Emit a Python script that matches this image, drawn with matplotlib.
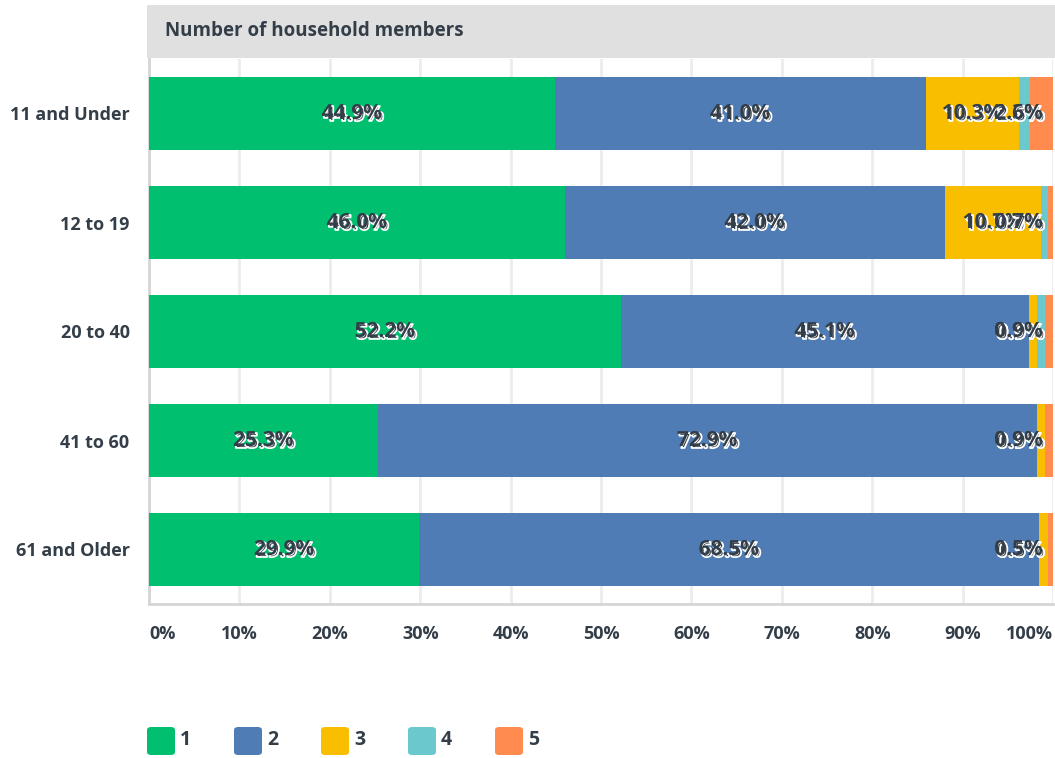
import matplotlib
matplotlib.use("Agg")
import matplotlib.pyplot as plt
import matplotlib.patheffects as pe
from matplotlib.patches import Rectangle, FancyBboxPatch
import numpy as np

plt.rcParams['font.family'] = ['Open Sans', 'DejaVu Sans']

groups = ['11 and Under', '12 to 19', '20 to 40', '41 to 60', '61 and Older']
members = ['1', '2', '3', '4', '5']
share_1 = [44.9, 46.0, 52.2, 25.3, 29.9]
share_2 = [41.0, 42.0, 45.1, 72.9, 68.5]
share_3 = [10.3, 10.7, 0.9, 0.9, 1.1]
share_4 = [1.3, 0.7, 0.9, 0.0, 0.0]
share_5 = [2.6, 0.7, 0.9, 0.9, 0.5]
colors = ['#00bf6f', '#507cb6', '#f9be00', '#6bc8cd', '#ff8b4f']
ticks = [0, 10, 20, 30, 40, 50, 60, 70, 80, 90, 100]

dark = '#333e48'
W, H = 1055, 758
fig = plt.figure(figsize=(W / 100, H / 100), dpi=100)
ax = fig.add_axes([149 / W, 1 - 604 / H, 904 / W, 545 / H])

series = [share_1, share_2, share_3, share_4, share_5]
y = np.arange(len(groups))
left = np.zeros(len(groups))
shadow = [pe.Stroke(linewidth=1.3, foreground='white', offset=(1.4, -1.4)), pe.Normal()]
for vals, col in zip(series, colors):
    vals = np.array(vals)
    ax.barh(y, vals, left=left, height=0.67, color=col, zorder=3)
    for yi, (l, v) in enumerate(zip(left, vals)):
        if v <= 0:
            continue
        cx = min(l + v / 2, 96.2)
        ax.text(cx, yi, f'{v:.1f}%', ha='center', va='center', fontsize=15,
                fontweight='bold', color=dark, zorder=5, path_effects=shadow)
    left += vals

ax.set_xlim(0, 100)
ax.set_ylim(4.5, -0.5)
ax.set_yticks(y)
ax.set_yticklabels(groups, fontsize=13, fontweight='bold', color=dark)
ax.set_xticks(ticks)
ax.set_xticklabels([f'{t}%' for t in ticks], fontsize=13, fontweight='bold',
                   color=dark)
lbls = ax.get_xticklabels()
lbls[0].set_ha('left')
lbls[-1].set_ha('right')
ax.tick_params(axis='x', length=0, pad=15)
ax.tick_params(axis='y', length=0, pad=14)
ax.grid(axis='x', color='#ececec', linewidth=2, zorder=0)
for s in ['top', 'right']:
    ax.spines[s].set_visible(False)
for s in ['left', 'bottom']:
    ax.spines[s].set_color('#d5d5d5')
    ax.spines[s].set_linewidth(2)

# header band
fig.add_artist(Rectangle((147 / W, 1 - 58 / H), (W - 147) / W, 53 / H,
                         transform=fig.transFigure, facecolor='#e0e0e0',
                         edgecolor='none'))
fig.text(165 / W, 1 - 31 / H, 'Number of household members', fontsize=13.5,
         fontweight='bold', color=dark, va='center', ha='left')

# legend
for i, (name, col) in enumerate(zip(members, colors)):
    x0 = 147 + i * 87
    fig.add_artist(FancyBboxPatch((x0 / W, 1 - 755 / H), 28 / W, 28 / H,
                                  boxstyle='round,pad=0,rounding_size=0.004',
                                  transform=fig.transFigure, facecolor=col,
                                  edgecolor='none'))
    fig.text((x0 + 33) / W, 1 - 740 / H, name, fontsize=14, fontweight='bold',
             color=dark, va='center', ha='left')

fig.savefig('out.png', dpi=100)
